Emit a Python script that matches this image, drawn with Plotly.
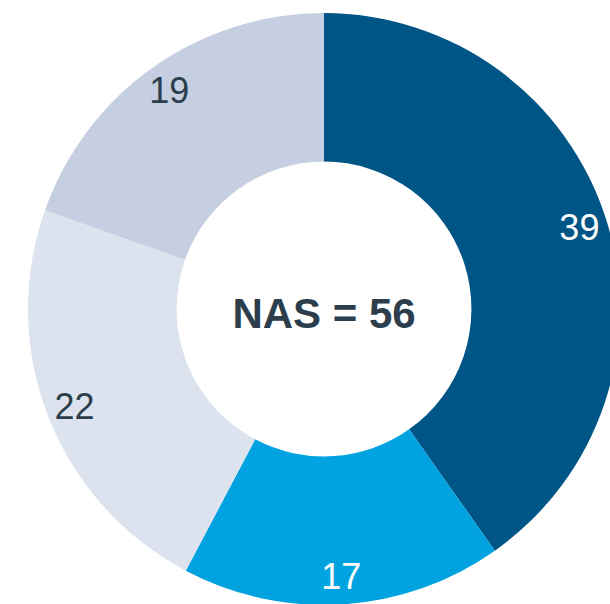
import plotly.graph_objects as go

categories = ["A", "B", "C", "D"]
values = [39, 17, 22, 19]
center_label = "NAS = 56"

slice_colors = ["#005587", "#00A3E0", "#DCE3EE", "#C5CFE1"]
text_colors = ["#FFFFFF", "#FFFFFF", "#2C3E4C", "#2C3E4C"]

W, H = 640, 620
cx, cy, R = 324, 309, 296
dom_x = [(cx - R) / W, (cx + R) / W]
dom_y = [(H - (cy + R)) / H, (H - (cy - R)) / H]
Rt = 308
dom_xt = [(cx - Rt) / W, (cx + Rt) / W]
dom_yt = [(H - (cy + Rt)) / H, (H - (cy - Rt)) / H]

fig = go.Figure()
fig.add_trace(go.Pie(
    labels=categories, values=values, sort=False, direction="clockwise",
    rotation=0, hole=0.498, domain=dict(x=dom_x, y=dom_y),
    marker=dict(colors=slice_colors, line=dict(width=0)),
    textinfo="none", hoverinfo="skip", showlegend=False,
    title=dict(text="<b>" + center_label + "</b>", position="middle center",
               font=dict(family="Liberation Sans, Arial", size=42, color="#2C3E4C")),
))
fig.add_trace(go.Pie(
    labels=categories, values=values, sort=False, direction="clockwise",
    rotation=0, hole=0.74, domain=dict(x=dom_xt, y=dom_yt),
    marker=dict(colors=["rgba(0,0,0,0)"] * 4, line=dict(width=0)),
    textinfo="value", textposition="inside", insidetextorientation="horizontal",
    textfont=dict(family="Liberation Sans, Arial", size=36, color=text_colors),
    hoverinfo="skip", showlegend=False,
))
fig.update_layout(
    width=W, height=H, margin=dict(l=0, r=0, t=0, b=0),
    paper_bgcolor="white", plot_bgcolor="white",
)
fig.write_html("out.html", config={"displayModeBar": False}, post_script=(
    "document.body.style.margin='0';"
    "document.body.style.overflow='hidden';"
    "document.documentElement.style.overflow='hidden';"
))
